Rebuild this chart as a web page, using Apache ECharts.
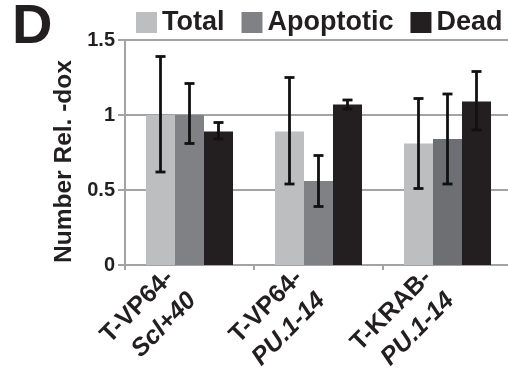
<!DOCTYPE html>
<html><head><meta charset="utf-8">
<script src="https://cdn.jsdelivr.net/npm/echarts@6/dist/echarts.min.js"></script>
<style>html,body{margin:0;padding:0;background:#fff}#c{width:508px;height:371px}</style>
</head><body><div id="c"></div>
<script>
const catLine1 = ['T-VP64-', 'T-VP64-', 'T-KRAB-'];
const catLine2 = ['Scl+40', 'PU.1-14', 'PU.1-14'];
const seriesNames = ['Total', 'Apoptotic', 'Dead'];
const totalVals = [1.00, 0.89, 0.81];
const apopVals = [1.00, 0.56, 0.84];
const deadVals = [0.89, 1.07, 1.09];
const totalLow = [0.62, 0.54, 0.51];
const totalHigh = [1.39, 1.25, 1.11];
const apopLow = [0.81, 0.39, 0.54];
const apopHigh = [1.21, 0.73, 1.14];
const deadLow = [0.84, 1.04, 0.90];
const deadHigh = [0.95, 1.10, 1.29];
const yTicks = [0, 0.5, 1, 1.5];

const FONT = '"Liberation Sans", Arial, sans-serif';
const TXT = '#231f20';
const GRID = '#a3a3a3';
const colors = ['#bdbec0', '#808184', '#231f20'];
const BAR_W = 29;

const vals = [totalVals, apopVals, deadVals];
const lows = [totalLow, apopLow, deadLow];
const highs = [totalHigh, apopHigh, deadHigh];

const chart = echarts.init(document.getElementById('c'), null, {renderer: 'canvas'});

const series = [];
vals.forEach((v, k) => {
  series.push({
    name: seriesNames[k], type: 'bar', barWidth: BAR_W, barGap: '0%',
    itemStyle: {color: colors[k]},
    data: v.map((y, i) => (k === 1 && i === 2) ? {value: y, itemStyle: {color: '#6e6f73'}} : y),
    z: 2
  });
});
vals.forEach((v, k) => {
  series.push({
    type: 'custom', z: 4, silent: true,
    encode: {x: 0, y: [1, 2]},
    data: lows[k].map((lo, i) => [i, lo, highs[k][i]]),
    renderItem: function (params, api) {
      const off = (k - 1) * BAR_W;
      const p1 = api.coord([api.value(0), api.value(1)]);
      const p2 = api.coord([api.value(0), api.value(2)]);
      const x = p1[0] + off;
      const cap = 5;
      const st = {stroke: '#111', lineWidth: 2.8};
      return {type: 'group', children: [
        {type: 'line', shape: {x1: x, y1: p1[1], x2: x, y2: p2[1]}, style: st},
        {type: 'line', shape: {x1: x - cap, y1: p1[1], x2: x + cap, y2: p1[1]}, style: st},
        {type: 'line', shape: {x1: x - cap, y1: p2[1], x2: x + cap, y2: p2[1]}, style: st}
      ]};
    }
  });
});

chart.setOption({
  animation: false,
  textStyle: {fontFamily: FONT},
  graphic: [{type: 'text', left: 12, top: 0, style: {text: 'D', font: 'bold 56px ' + FONT, fill: TXT}}],
  legend: {
    data: seriesNames, left: 136, top: 9, width: 420, padding: 0, icon: 'rect', itemWidth: 21, itemHeight: 21, itemGap: 17,
    textStyle: {fontFamily: FONT, fontWeight: 'bold', fontSize: 27, color: TXT},
    selectedMode: false
  },
  grid: {left: 125, top: 40, width: 387, height: 225, outerBoundsMode: 'none', containLabel: false},
  xAxis: {
    type: 'category', data: catLine1.map((s, i) => s + catLine2[i]),
    axisLine: {lineStyle: {color: GRID, width: 2}},
    axisTick: {show: true, length: 5, lineStyle: {color: GRID, width: 2}},
    axisLabel: {
      rotate: 45, interval: 0, margin: 12, padding: [0, 12, 0, 0],
      formatter: (v, i) => '{a|' + catLine1[i] + '}\n{b|' + catLine2[i] + '}',
      rich: {
        a: {fontFamily: FONT, fontWeight: 'bold', fontSize: 25, color: TXT, lineHeight: 32},
        b: {fontFamily: FONT, fontWeight: 'bold', fontStyle: 'italic', fontSize: 25, color: TXT, lineHeight: 32}
      }
    }
  },
  yAxis: {
    type: 'value', min: 0, max: 1.5, interval: 0.5,
    name: 'Number Rel. -dox', nameLocation: 'middle', nameGap: 43,
    nameTextStyle: {fontFamily: FONT, fontWeight: 'bold', fontSize: 24.5, color: TXT, padding: [0, 18, 0, 0]},
    axisLine: {show: true, lineStyle: {color: GRID, width: 2}},
    axisTick: {show: true, length: 7, lineStyle: {color: GRID, width: 2}},
    axisLabel: {margin: 10, fontFamily: FONT, fontWeight: 'bold', fontSize: 20, color: TXT,
      formatter: v => String(yTicks.find(t => Math.abs(t - v) < 1e-9) ?? v)},
    splitLine: {show: true, lineStyle: {color: GRID, width: 2}}
  },
  series: series
});
</script></body></html>
